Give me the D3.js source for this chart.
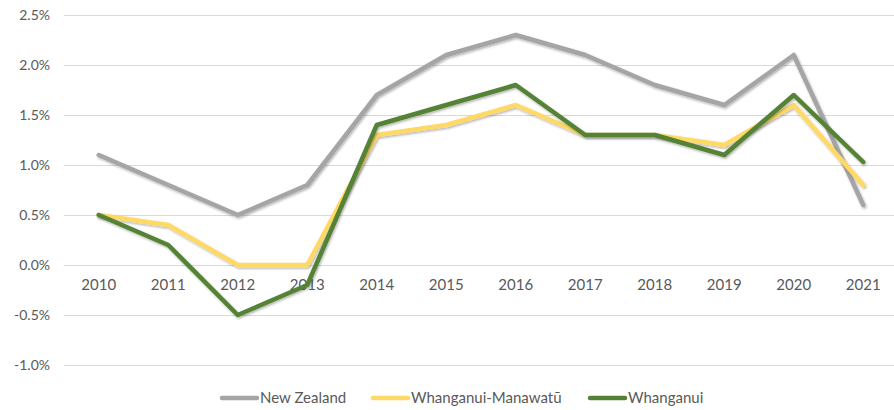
<!DOCTYPE html>
<html>
<head>
<meta charset="utf-8">
<script src="https://cdn.jsdelivr.net/npm/d3@7"></script>
<style>
  body { margin: 0; background: #fff; }
  svg text { font-family: Lato, "Open Sans", sans-serif; fill: #595959; }
</style>
</head>
<body>
<svg id="graphsvg" width="894" height="410"></svg>
<script>
var years = ["2010","2011","2012","2013","2014","2015","2016","2017","2018","2019","2020","2021"];
var newZealand = [1.1, 0.8, 0.5, 0.8, 1.7, 2.1, 2.3, 2.1, 1.8, 1.6, 2.1, 0.6];
var whanganuiManawatu = [0.5, 0.4, 0.0, 0.0, 1.3, 1.4, 1.6, 1.3, 1.3, 1.2, 1.6, 0.8];
var whanganui = [0.5, 0.2, -0.5, -0.2, 1.4, 1.6, 1.8, 1.3, 1.3, 1.1, 1.7, 1.03];
var yTicks = [-1.0, -0.5, 0.0, 0.5, 1.0, 1.5, 2.0, 2.5];

var series = [
  {name: "New Zealand", values: newZealand, color: "#a5a5a5"},
  {name: "Whanganui-Manawatū", values: whanganuiManawatu, color: "#ffd966"},
  {name: "Whanganui", values: whanganui, color: "#548235"}
];

var svg = d3.select("#graphsvg");
var margin = {left: 64, right: 0, top: 15},
    plotW = 834;

var x = d3.scaleBand().domain(years).range([margin.left, margin.left + plotW]);
var y = d3.scaleLinear().domain([-1, 2.5]).range([365, 15]);

var defs = svg.append("defs");
defs.append("filter").attr("id", "shadow")
    .attr("x", "-5%").attr("y", "-5%").attr("width", "110%").attr("height", "120%")
  .append("feDropShadow")
    .attr("dx", 1).attr("dy", 1.5).attr("stdDeviation", 1)
    .attr("flood-color", "#000").attr("flood-opacity", 0.3);

// gridlines
svg.append("g")
  .selectAll("line")
  .data(yTicks)
  .enter().append("line")
    .attr("x1", margin.left).attr("x2", 894)
    .attr("y1", function(d) { return Math.round(y(d)) + 0.5; })
    .attr("y2", function(d) { return Math.round(y(d)) + 0.5; })
    .attr("stroke", "#d9d9d9")
    .attr("stroke-width", 1);

// y labels
svg.append("g")
  .selectAll("text")
  .data(yTicks)
  .enter().append("text")
    .attr("x", 50)
    .attr("y", function(d) { return y(d); })
    .attr("dy", "0.35em")
    .attr("text-anchor", "end")
    .style("font-size", "14px")
    .text(function(d) { return d.toFixed(1) + "%"; });

// x labels just below the zero line
svg.append("g")
  .selectAll("text")
  .data(years)
  .enter().append("text")
    .attr("x", function(d) { return x(d) + x.bandwidth() / 2; })
    .attr("y", y(0) + 20)
    .attr("dy", "0.35em")
    .attr("text-anchor", "middle")
    .style("font-size", "15px")
    .text(function(d) { return d; });

var line = d3.line()
  .x(function(d, i) { return x(years[i]) + x.bandwidth() / 2; })
  .y(function(d) { return y(d); });

svg.append("g")
  .selectAll("path")
  .data(series)
  .enter().append("path")
    .attr("d", function(s) { return line(s.values); })
    .attr("fill", "none")
    .attr("stroke", function(s) { return s.color; })
    .attr("stroke-width", 4.5)
    .attr("stroke-linejoin", "round")
    .attr("stroke-linecap", "round")
    .attr("filter", "url(#shadow)");

// legend
var legendX = [220, 371, 588];
var lg = svg.append("g").selectAll("g")
  .data(series)
  .enter().append("g")
    .attr("transform", function(s, i) { return "translate(" + legendX[i] + ",398)"; });
lg.append("line")
    .attr("x1", 2).attr("x2", 37).attr("y1", 0).attr("y2", 0)
    .attr("stroke", function(s) { return s.color; })
    .attr("stroke-width", 4.5)
    .attr("stroke-linecap", "round");
lg.append("text")
    .attr("x", 40).attr("y", 0).attr("dy", "0.35em")
    .style("font-size", "15px")
    .text(function(s) { return s.name; });
</script>
</body>
</html>
